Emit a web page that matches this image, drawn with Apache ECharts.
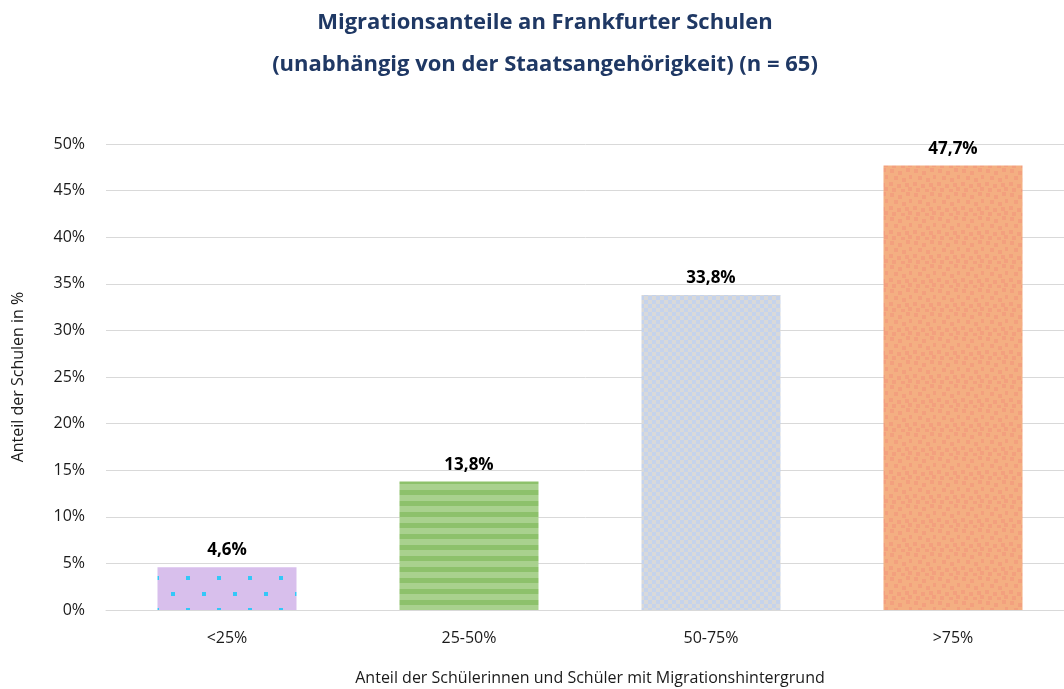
<!DOCTYPE html>
<html>
<head>
<meta charset="utf-8">
<script src="https://cdn.jsdelivr.net/npm/echarts@6/dist/echarts.min.js"></script>
<style>
  html, body { margin: 0; padding: 0; background: #fff; }
  #chart { width: 1064px; height: 689px; }
</style>
</head>
<body>
<div id="chart"></div>
<script>
var categories = ['<25%', '25-50%', '50-75%', '>75%'];
var shares = [4.6, 13.8, 33.8, 47.7];
var yTicks = [0, 5, 10, 15, 20, 25, 30, 35, 40, 45, 50];

// small canvas tiles for the Excel-like fill patterns
function tile(w, h, draw) {
  var c = document.createElement('canvas');
  c.width = w; c.height = h;
  draw(c.getContext('2d'));
  return { image: c, repeat: 'repeat' };
}

var dots = tile(31, 32, function (g) {
  g.fillStyle = '#D8BFEC'; g.fillRect(0, 0, 31, 32);
  g.fillStyle = '#33C8F8';
  g.fillRect(0, 0, 4, 4);
  g.fillRect(16, 16, 4, 4);
});
var stripes = tile(4, 11, function (g) {
  g.fillStyle = '#A9D18E'; g.fillRect(0, 0, 4, 11);
  g.fillStyle = '#8DC16B'; g.fillRect(0, 6, 4, 5);
});
var checker = tile(8, 8, function (g) {
  g.fillStyle = '#D9D9D9'; g.fillRect(0, 0, 8, 8);
  g.fillStyle = '#C5D3EC';
  g.fillRect(0, 0, 4, 4);
  g.fillRect(4, 4, 4, 4);
});
var speckle = tile(24, 24, function (g) {
  g.fillStyle = '#F4AF82'; g.fillRect(0, 0, 24, 24);
  g.fillStyle = '#F3A07E';
  var sq = [[2, 1], [10, 3], [18, 0], [6, 8], [14, 10], [21, 7], [1, 14], [9, 16], [17, 15], [4, 20], [13, 21], [20, 19]];
  sq.forEach(function (p) { g.fillRect(p[0], p[1], 4, 4); });
});
var fills = [dots, stripes, checker, speckle];

var chart = echarts.init(document.getElementById('chart'));
chart.setOption({
  animation: false,
  textStyle: { fontFamily: 'Open Sans' },
  title: {
    text: 'Migrationsanteile an Frankfurter Schulen\n(unabhängig von der Staatsangehörigkeit) (n = 65)',
    left: 540, top: -3, textAlign: 'center',
    textStyle: { fontFamily: 'Open Sans', fontSize: 22, fontWeight: 'bold', color: '#1F3864', lineHeight: 42 }
  },
  grid: { left: 106, right: -10, top: 144, bottom: 79, outerBoundsMode: 'none' },
  xAxis: {
    type: 'category',
    data: categories,
    axisTick: { show: false },
    axisLine: { lineStyle: { color: '#D9D9D9', width: 1 } },
    axisLabel: { color: '#1a1a1a', fontSize: 16, margin: 20 },
    name: 'Anteil der Schülerinnen und Schüler mit Migrationshintergrund',
    nameLocation: 'middle', nameGap: 60,
    nameTextStyle: { color: '#1a1a1a', fontSize: 16 }
  },
  yAxis: {
    type: 'value',
    min: yTicks[0], max: yTicks[yTicks.length - 1], interval: 5,
    axisLabel: { formatter: '{value}%', color: '#1a1a1a', fontSize: 16, margin: 21 },
    splitLine: { lineStyle: { color: '#D9D9D9' } },
    axisLine: { show: false },
    axisTick: { show: false },
    name: 'Anteil der Schulen in %',
    nameLocation: 'middle', nameGap: 80, nameRotate: 90,
    nameTextStyle: { color: '#1a1a1a', fontSize: 16 }
  },
  series: [{
    type: 'bar',
    barWidth: 139,
    data: shares.map(function (v, i) {
      return { value: v, itemStyle: { color: fills[i] } };
    }),
    label: {
      show: true, position: 'top', distance: 8,
      formatter: function (p) { return p.value.toFixed(1).replace('.', ',') + '%'; },
      color: '#000', fontSize: 17, fontWeight: 'bold'
    }
  }]
});
</script>
</body>
</html>
